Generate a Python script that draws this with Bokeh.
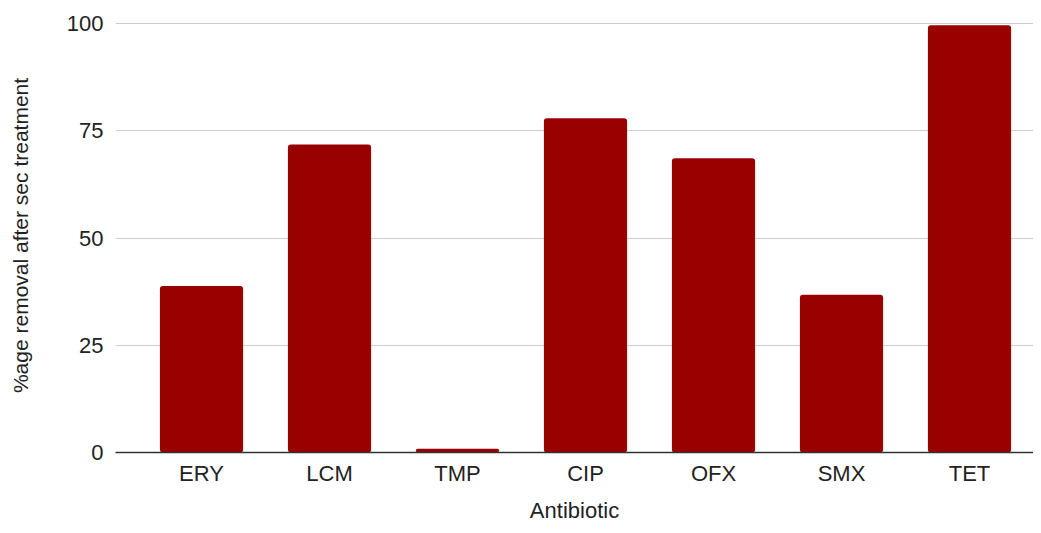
from bokeh.plotting import figure
from bokeh.models import Range1d, FixedTicker, ColumnDataSource
from bokeh.embed import file_html
from bokeh.resources import INLINE

categories = ["ERY", "LCM", "TMP", "CIP", "OFX", "SMX", "TET"]
removal = [38.8, 71.8, 0.9, 77.9, 68.6, 36.8, 99.6]
y_ticks = [0, 25, 50, 75, 100]

positions = list(range(len(categories)))
src = ColumnDataSource(dict(x=positions, top=removal))

FONT = "Liberation Sans"
TXT = "#222222"

p = figure(width=1033, height=525, output_backend="svg", toolbar_location=None,
           x_range=Range1d(-0.672, 6.5), y_range=Range1d(0, 101.17),
           min_border_left=115, min_border_right=0, min_border_top=18, min_border_bottom=73)
p.outline_line_color = None
p.background_fill_color = "white"
p.border_fill_color = "white"

p.vbar(x="x", top="top", width=0.65, source=src, fill_color="#990000",
       line_color=None, border_radius=3)

# y axis
p.yaxis.ticker = FixedTicker(ticks=y_ticks)
p.yaxis.axis_line_color = None
p.yaxis.major_tick_line_color = None
p.yaxis.minor_tick_line_color = None
p.yaxis.major_tick_out = 0
p.yaxis.major_tick_in = 0
p.yaxis.minor_tick_out = 0
p.yaxis.major_label_text_font = FONT
p.yaxis.major_label_text_font_size = "22px"
p.yaxis.major_label_text_color = TXT
p.yaxis.major_label_standoff = 12
p.yaxis.axis_label = "%age removal after sec treatment"
p.yaxis.axis_label_text_font = FONT
p.yaxis.axis_label_text_font_size = "21px"
p.yaxis.axis_label_text_font_style = "normal"
p.yaxis.axis_label_text_color = TXT
p.yaxis.axis_label_standoff = 32

# x axis
p.xaxis.ticker = FixedTicker(ticks=positions)
p.xaxis.major_label_overrides = {i: c for i, c in enumerate(categories)}
p.xaxis.axis_line_color = "#333333"
p.xaxis.axis_line_width = 1.5
p.xaxis.major_tick_line_color = None
p.xaxis.minor_tick_line_color = None
p.xaxis.major_tick_out = 0
p.xaxis.major_tick_in = 0
p.xaxis.minor_tick_out = 0
p.xaxis.major_label_text_font = FONT
p.xaxis.major_label_text_font_size = "22px"
p.xaxis.major_label_text_color = TXT
p.xaxis.major_label_standoff = 8
p.xaxis.axis_label = "Antibiotic"
p.xaxis.axis_label_text_font = FONT
p.xaxis.axis_label_text_font_size = "22px"
p.xaxis.axis_label_text_font_style = "normal"
p.xaxis.axis_label_text_color = TXT
p.xaxis.axis_label_standoff = 9

p.xgrid.grid_line_color = None
p.ygrid.ticker = FixedTicker(ticks=y_ticks)
p.ygrid.grid_line_color = "#cccccc"
p.ygrid.grid_line_width = 1

open("out.html", "w").write(file_html(p, INLINE))
